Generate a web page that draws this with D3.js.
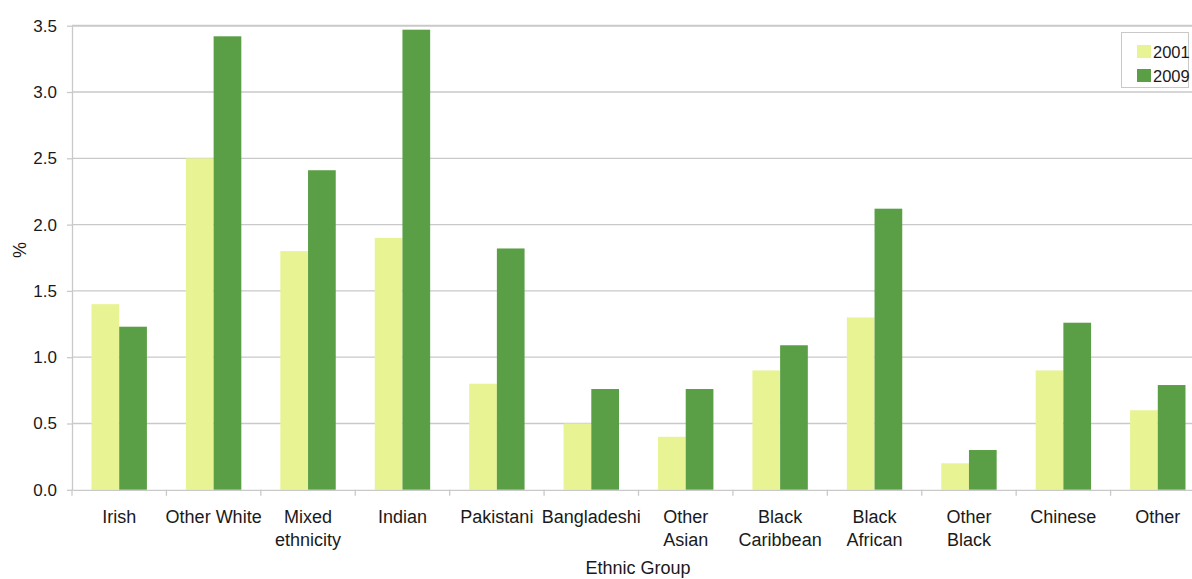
<!DOCTYPE html>
<html><head><meta charset="utf-8">
<script src="https://cdn.jsdelivr.net/npm/d3@7"></script>
<style>body{margin:0;background:#fff;}svg{display:block;font-family:"Liberation Sans",Arial,sans-serif;}</style>
</head><body>
<svg id="c" width="1192" height="579"></svg>
<script>
const categories = [["Irish"],["Other White"],["Mixed","ethnicity"],["Indian"],["Pakistani"],["Bangladeshi"],["Other","Asian"],["Black","Caribbean"],["Black","African"],["Other","Black"],["Chinese"],["Other"]];
const series = ["2001","2009"];
const values2001 = [1.4,2.5,1.8,1.9,0.8,0.5,0.4,0.9,1.3,0.2,0.9,0.6];
const values2009 = [1.23,3.42,2.41,3.47,1.82,0.76,0.76,1.09,2.12,0.3,1.26,0.79];
const yTicks = [0,0.5,1,1.5,2,2.5,3,3.5];
const colors = ["#e8f393","#5a9f46"];

(function(){
const svg = d3.select("#c");
const pL = 72, pR = 1205, pT = 25.7, pB = 489.8;
const keys = categories.map((d,i)=>i);
const x = d3.scaleBand().domain(keys).range([pL,pR]).paddingInner(0).paddingOuter(0);
const y = d3.scaleLinear().domain([0,3.5]).range([pB,pT]);
const sub = d3.scaleBand().domain(series).range([0,55.4]);
const gridC = "#c9c9c9";
const txt = "#1a1a1a";

// gridlines
svg.append("g").selectAll("line").data(yTicks.filter(t=>t>0)).join("line")
  .attr("x1",pL).attr("x2",1192).attr("y1",d=>y(d)).attr("y2",d=>y(d))
  .attr("stroke",gridC).attr("stroke-width",d=>d===3.5?2:1.3);

// bars
const data = keys.map(i=>({i, v:[values2001[i],values2009[i]]}));
const g = svg.append("g");
g.selectAll("g").data(data).join("g")
  .attr("transform",d=>`translate(${x(d.i)+x.bandwidth()/2-27.7},0)`)
  .selectAll("rect").data(d=>d.v.map((v,k)=>({k,v}))).join("rect")
  .attr("x",d=>sub(series[d.k])).attr("width",sub.bandwidth())
  .attr("y",d=>y(d.v)).attr("height",d=>pB-y(d.v))
  .attr("fill",d=>colors[d.k]);

// y axis
const ya = svg.append("g").attr("transform",`translate(${pL},0)`)
  .call(d3.axisLeft(y).tickValues(yTicks).tickFormat(d3.format(".1f")).tickSize(5).tickSizeOuter(0));
ya.select(".domain").attr("stroke",gridC).attr("stroke-width",1.3);
ya.selectAll(".tick line").attr("stroke",gridC).attr("stroke-width",1.3);
ya.selectAll(".tick text").attr("x",-15).attr("font-size","17px").attr("fill",txt).attr("font-family","Liberation Sans, Arial, sans-serif");

// x axis
const xa = svg.append("g").attr("transform",`translate(0,${pB})`)
  .call(d3.axisBottom(x).tickSize(0).tickFormat(""));
xa.select(".domain").attr("stroke",gridC).attr("stroke-width",1.3);
svg.append("g").selectAll("line").data(d3.range(categories.length+1)).join("line")
  .attr("x1",d=>pL+d*x.bandwidth()).attr("x2",d=>pL+d*x.bandwidth())
  .attr("y1",pB).attr("y2",pB+6).attr("stroke",gridC).attr("stroke-width",1.3);

// x labels
const lab = svg.append("g").selectAll("text").data(keys).join("text")
  .attr("x",d=>x(d)+x.bandwidth()/2).attr("y",523)
  .attr("text-anchor","middle").attr("font-size","18px").attr("fill",txt);
lab.selectAll("tspan").data(d=>categories[d]).join("tspan")
  .attr("x",function(){return d3.select(this.parentNode).attr("x");})
  .attr("dy",(d,i)=>i===0?0:23).text(d=>d);

// axis titles
svg.append("text").attr("x",638).attr("y",574).attr("text-anchor","middle")
  .attr("font-size","18px").attr("fill",txt).text("Ethnic Group");
svg.append("text").attr("transform","translate(26,250) rotate(-90)").attr("text-anchor","middle")
  .attr("font-size","18px").attr("fill",txt).text("%");

// legend
const lg = svg.append("g");
lg.append("rect").attr("x",1121.5).attr("y",32.5).attr("width",67).attr("height",55)
  .attr("fill","#fff").attr("stroke","#c9c9c9").attr("stroke-width",1);
series.forEach((s,k)=>{
  lg.append("rect").attr("x",1137).attr("y",45+k*24).attr("width",14).attr("height",13).attr("fill",colors[k]);
  lg.append("text").attr("x",1153).attr("y",58+k*24).attr("font-size","16.5px").attr("fill",txt).text(s);
});
})();
</script>
</body></html>
